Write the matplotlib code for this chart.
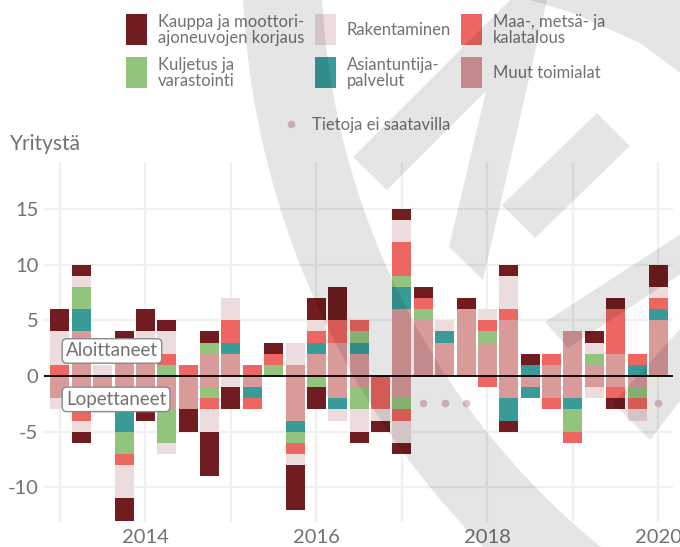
import matplotlib
matplotlib.use("Agg")
import matplotlib.pyplot as plt
from matplotlib.patches import Polygon, Rectangle
import numpy as np

plt.rcParams['font.family'] = ['Lato', 'DejaVu Sans']

# quarters 2013Q1 .. 2020Q1
quarters = [f"{y}Q{q}" for y in range(2013, 2021) for q in range(1, 5)][:29]

categories = ["Muut toimialat", "Asiantuntija-\npalvelut", "Kuljetus ja\nvarastointi",
              "Maa-, metsä- ja\nkalatalous", "Rakentaminen",
              "Kauppa ja moottori-\najoneuvojen korjaus"]
colors = ["#d99a9a", "#389b98", "#93c47d", "#ee6661", "#ecdcdd", "#701c20"]

# started firms (Aloittaneet)
muut_pos = [0, 4, 0, 3, 3, 0, 0, 2, 2, 0, 0, 1, 2, 3, 2, 0, 6, 5, 3, 6, 3, 5, 0, 1, 4, 1, 2, 0, 5]
asi_pos = [0, 2, 0, 0, 0, 0, 0, 0, 1, 0, 0, 0, 1, 0, 1, 0, 2, 0, 1, 0, 0, 0, 1, 0, 0, 0, 0, 1, 1]
kulj_pos = [0, 2, 0, 0, 0, 1, 0, 1, 0, 0, 1, 0, 0, 0, 1, 0, 1, 1, 0, 0, 1, 0, 0, 0, 0, 1, 0, 0, 0]
maa_pos = [1, 0, 0, 0, 0, 1, 1, 0, 2, 1, 1, 0, 1, 2, 1, 0, 3, 1, 0, 0, 1, 1, 0, 1, 0, 0, 4, 1, 1]
rak_pos = [3, 1, 1, 0, 1, 2, 0, 0, 2, 0, 0, 2, 1, 0, 0, 0, 2, 0, 1, 0, 1, 3, 0, 0, 0, 1, 0, 0, 1]
kauppa_pos = [2, 1, 0, 1, 2, 1, 0, 1, 0, 0, 1, 0, 2, 3, 0, 0, 1, 1, 0, 1, 0, 1, 1, 0, 0, 1, 1, 0, 2]

# closed firms (Lopettaneet)
muut_neg = [2, 3, 1, 3, 3, 3, 3, 1, 0, 1, 0, 4, 0, 2, 1, 0, 2, 0, 0, 0, 0, 2, 1, 2, 2, 1, 1, 1, 0]
asi_neg = [0, 0, 0, 2, 0, 0, 0, 0, 0, 1, 0, 1, 0, 1, 0, 0, 0, 0, 0, 0, 0, 2, 1, 0, 1, 0, 0, 0, 0]
kulj_neg = [0, 0, 0, 2, 0, 3, 0, 1, 0, 0, 0, 1, 1, 0, 2, 0, 1, 0, 0, 0, 0, 0, 0, 0, 2, 0, 0, 1, 0]
maa_neg = [0, 1, 0, 1, 0, 0, 0, 1, 0, 1, 0, 1, 0, 0, 0, 3, 1, 0, 0, 0, 1, 0, 0, 1, 1, 0, 1, 1, 0]
rak_neg = [1, 1, 0, 3, 0, 1, 0, 2, 1, 0, 0, 1, 0, 1, 2, 1, 2, 0, 0, 0, 0, 0, 0, 0, 0, 1, 0, 1, 0]
kauppa_neg = [0, 1, 0, 2, 1, 0, 2, 4, 2, 0, 0, 4, 2, 0, 1, 1, 1, 0, 0, 0, 0, 1, 0, 0, 0, 0, 1, 0, 0]
# no data on closed firms
missing_neg = ["2017Q2", "2017Q3", "2017Q4", "2020Q1"]

pos_series = [muut_pos, asi_pos, kulj_pos, maa_pos, rak_pos, kauppa_pos]
neg_series = [muut_neg, asi_neg, kulj_neg, maa_neg, rak_neg, kauppa_neg]

x = np.array([int(q[:4]) + (int(q[-1]) - 1) / 4 for q in quarters])

W, H = 680, 547
fig = plt.figure(figsize=(W / 100, H / 100), dpi=100)
ax = fig.add_axes([44 / W, (H - 522) / H, (673 - 44) / W, (522 - 162) / H])

grey = "#727272"
grid = "#f0f0f0"
bw = 0.222

bottom = np.zeros(len(x))
for vals, c in zip(pos_series, colors):
    v = np.array(vals, dtype=float)
    ax.bar(x, v, bw, bottom=bottom, color=c, linewidth=0, zorder=2)
    bottom += v
bottom = np.zeros(len(x))
for vals, c in zip(neg_series, colors):
    v = np.array(vals, dtype=float)
    ax.bar(x, -v, bw, bottom=-bottom, color=c, linewidth=0, zorder=2)
    bottom += v

mx = [x[quarters.index(q)] for q in missing_neg]
ax.plot(mx, [-2.4] * len(mx), "o", color="#dcc4c5", markersize=4.5, zorder=3)

ax.axhline(0, color="black", lw=1.3, zorder=4)

ax.set_xlim(2012.813, 2020.17)
ax.set_ylim(-13.12, 19.23)
ax.set_yticks([-10, -5, 0, 5, 10, 15])
ax.set_yticklabels(["-10", "-5", "0", "5", "10", "15"])
ax.set_xticks([2014, 2016, 2018, 2020])
ax.set_xticks(range(2013, 2021), minor=True)
ax.grid(axis="y", color=grid, lw=1.6, zorder=0)
ax.grid(axis="x", which="both", color=grid, lw=1.6, zorder=0)
ax.tick_params(which="both", length=0, labelsize=14.5, colors=grey)
ax.tick_params(axis="y", pad=4)
ax.tick_params(axis="x", pad=5)
for s in ax.spines.values():
    s.set_visible(False)

box = dict(boxstyle="round,pad=0.2,rounding_size=0.25", fc="white", ec="#8a8a8a", lw=1)
ax.text(2013.07, 2.25, "Aloittaneet", fontsize=13.5, color=grey, va="center", ha="left",
        bbox=box, zorder=6)
ax.text(2013.07, -2.1, "Lopettaneet", fontsize=13.5, color=grey, va="center", ha="left",
        bbox=box, zorder=6)

# legend + title in pixel coordinates
lg = fig.add_axes([0, 0, 1, 1], zorder=5)
lg.set_xlim(0, W)
lg.set_ylim(H, 0)
lg.axis("off")
lg.patch.set_visible(False)

lg.text(10, 144, "Yritystä", fontsize=15, color=grey, va="center", ha="left")

leg_order = [5, 4, 3, 2, 1, 0]
cols = [126, 315, 461]
rows = [14, 57]
for k, idx in enumerate(leg_order):
    cx = cols[k % 3]
    ry = rows[k // 3]
    lg.add_patch(Rectangle((cx, ry), 21, 31, color=colors[idx], lw=0))
    lg.text(cx + 32, ry + 16, categories[idx], fontsize=12, color=grey, va="center",
            ha="left", linespacing=0.95)
lg.plot([291], [124], "o", color="#dcc4c5", markersize=4.5)
lg.text(312, 125, "Tietoja ei saatavilla", fontsize=12, color=grey, va="center", ha="left")

# watermark logo overlay
wm = fig.add_axes([0, 0, 1, 1], zorder=10)
wm.set_xlim(0, W)
wm.set_ylim(H, 0)
wm.axis("off")
wm.patch.set_visible(False)

cx0, cy0, r_out, r_in = 1081, -42, 839, 760
th = np.radians(np.linspace(128, 184, 120))
ring = np.vstack([np.c_[cx0 + r_out * np.cos(th), cy0 + r_out * np.sin(th)],
                  np.c_[cx0 + r_in * np.cos(th[::-1]), cy0 + r_in * np.sin(th[::-1])]])
shapes = [
    ring,
    [(497, -5), (690, -5), (690, 80), (640, 43), (573, 13), (530, 0)],
    [(353, 157), (558, -48), (483, 280), (449, 247), (486, 91), (387, 190)],
    [(502, 205), (597, 113), (630, 146), (535, 238)],
    [(545, 322), (690, 228), (690, 268), (568, 348)],
    [(613, 403), (690, 318), (690, 388), (650, 440)],
]
for pts in shapes:
    wm.add_patch(Polygon(pts, closed=True, fc="black", alpha=0.1, lw=0))

fig.savefig("out.png", dpi=100)
